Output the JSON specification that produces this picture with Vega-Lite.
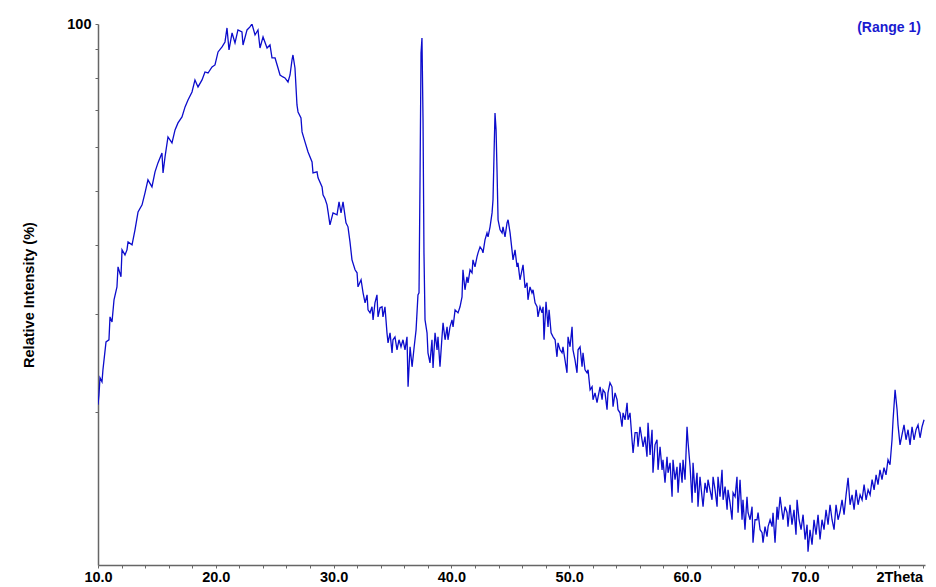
{
"$schema": "https://vega.github.io/schema/vega-lite/v6.json",
"width": 827, "height": 541,
"autosize": {"type": "none"},
"padding": {"left": 98, "top": 24, "right": 11, "bottom": 22},
"background": "white",
"config": {"view": {"stroke": null}, "font": "Liberation Sans"},
"title": {"text": "(Range 1)", "anchor": "end", "color": "#1a1ad0", "fontSize": 14, "fontWeight": "bold", "font": "Liberation Sans", "baseline": "alphabetic", "offset": 0, "dy": 30, "dx": -4, "frame": "group"},
"data": {"values": [
{"t":10.00,"i":20.61},{"t":10.08,"i":21.47},{"t":10.17,"i":23.05},{"t":10.34,"i":22.66},{"t":10.42,"i":23.83},{"t":10.68,"i":26.75},{"t":10.93,"i":26.98},{"t":11.02,"i":29.67},{"t":11.19,"i":29.06},{"t":11.36,"i":31.85},
{"t":11.61,"i":33.61},{"t":11.70,"i":36.52},{"t":11.95,"i":35.04},{"t":12.04,"i":39.18},{"t":12.29,"i":38.37},{"t":12.46,"i":39.18},{"t":12.55,"i":40.50},{"t":12.89,"i":40.00},{"t":13.14,"i":42.57},{"t":13.40,"i":45.87},
{"t":13.74,"i":47.22},{"t":13.99,"i":49.63},{"t":14.24,"i":52.38},{"t":14.58,"i":50.88},{"t":14.84,"i":54.14},{"t":15.09,"i":56.20},{"t":15.43,"i":58.58},{"t":15.52,"i":53.92},{"t":15.69,"i":57.62},{"t":15.94,"i":62.60},
{"t":16.28,"i":61.06},{"t":16.54,"i":64.45},{"t":16.79,"i":66.34},{"t":17.13,"i":68.01},{"t":17.39,"i":70.89},{"t":17.64,"i":72.98},{"t":17.98,"i":75.43},{"t":18.23,"i":79.29},{"t":18.49,"i":77.02},{"t":18.83,"i":79.29},
{"t":19.08,"i":81.96},{"t":19.34,"i":81.61},{"t":19.68,"i":83.68},{"t":19.93,"i":84.37},{"t":20.19,"i":89.05},{"t":20.53,"i":90.92},{"t":20.78,"i":92.82},{"t":20.95,"i":98.38},{"t":21.12,"i":89.80},{"t":21.38,"i":96.35},
{"t":21.63,"i":92.43},{"t":21.88,"i":97.56},{"t":22.22,"i":96.75},{"t":22.31,"i":91.67},{"t":22.65,"i":97.56},{"t":22.90,"i":98.78},{"t":23.07,"i":100.0},{"t":23.33,"i":95.55},{"t":23.58,"i":97.56},{"t":23.75,"i":90.54},
{"t":24.01,"i":94.77},{"t":24.35,"i":90.54},{"t":24.60,"i":91.67},{"t":24.77,"i":86.86},{"t":25.03,"i":86.86},{"t":25.28,"i":83.33},{"t":25.45,"i":80.94},{"t":25.70,"i":80.28},{"t":25.87,"i":79.95},{"t":26.13,"i":78.63},
{"t":26.30,"i":80.94},{"t":26.47,"i":86.14},{"t":26.55,"i":87.94},{"t":26.72,"i":83.33},{"t":26.89,"i":71.48},{"t":26.98,"i":69.43},{"t":27.23,"i":67.73},{"t":27.32,"i":63.91},{"t":27.57,"i":61.31},{"t":27.83,"i":58.82},
{"t":28.17,"i":56.43},{"t":28.25,"i":53.92},{"t":28.59,"i":54.14},{"t":28.68,"i":52.82},{"t":29.02,"i":50.88},{"t":29.10,"i":49.22},{"t":29.27,"i":48.42},{"t":29.44,"i":47.22},{"t":29.53,"i":45.87},{"t":29.69,"i":43.46},
{"t":29.95,"i":45.67},{"t":30.29,"i":45.30},{"t":30.46,"i":47.81},{"t":30.63,"i":45.67},{"t":30.80,"i":47.81},{"t":31.05,"i":43.82},{"t":31.22,"i":43.11},{"t":31.39,"i":40.50},{"t":31.56,"i":37.59},{"t":31.82,"i":36.07},
{"t":31.99,"i":35.62},{"t":32.07,"i":33.61},{"t":32.33,"i":34.61},{"t":32.50,"i":32.78},{"t":32.67,"i":31.45},{"t":32.84,"i":32.51},{"t":32.92,"i":30.55},{"t":33.09,"i":30.17},{"t":33.26,"i":30.94},{"t":33.35,"i":29.31},
{"t":33.51,"i":31.45},{"t":33.68,"i":32.51},{"t":33.77,"i":29.67},{"t":33.94,"i":30.81},{"t":34.11,"i":30.94},{"t":34.19,"i":29.67},{"t":34.36,"i":30.94},{"t":34.53,"i":27.77},{"t":34.62,"i":26.64},{"t":34.79,"i":27.77},
{"t":34.96,"i":25.56},{"t":35.04,"i":26.98},{"t":35.21,"i":27.31},{"t":35.38,"i":25.88},{"t":35.55,"i":26.98},{"t":35.72,"i":26.21},{"t":35.89,"i":26.98},{"t":36.06,"i":25.88},{"t":36.23,"i":27.31},{"t":36.32,"i":22.20},
{"t":36.49,"i":26.21},{"t":36.66,"i":24.12},{"t":36.83,"i":26.10},{"t":37.00,"i":28.12},{"t":37.16,"i":32.51},{"t":37.25,"i":32.78},{"t":37.33,"i":50.88},{"t":37.42,"i":88.67},{"t":37.50,"i":94.38},{"t":37.59,"i":67.18},
{"t":37.67,"i":38.69},{"t":37.76,"i":29.31},{"t":37.93,"i":27.77},{"t":38.01,"i":25.56},{"t":38.18,"i":24.52},{"t":38.35,"i":26.98},{"t":38.44,"i":24.01},{"t":38.61,"i":27.77},{"t":38.78,"i":25.88},{"t":38.86,"i":27.31},
{"t":39.03,"i":24.12},{"t":39.20,"i":27.31},{"t":39.29,"i":28.94},{"t":39.46,"i":26.98},{"t":39.63,"i":28.47},{"t":39.71,"i":26.98},{"t":39.88,"i":28.47},{"t":40.05,"i":29.31},{"t":40.14,"i":28.47},{"t":40.31,"i":30.55},
{"t":40.56,"i":30.17},{"t":40.73,"i":30.94},{"t":40.90,"i":32.24},{"t":40.98,"i":36.07},{"t":41.15,"i":33.20},{"t":41.32,"i":35.04},{"t":41.41,"i":34.17},{"t":41.58,"i":36.07},{"t":41.75,"i":35.62},{"t":41.83,"i":37.59},
{"t":42.00,"i":36.52},{"t":42.17,"i":38.06},{"t":42.26,"i":38.69},{"t":42.43,"i":39.67},{"t":42.60,"i":39.18},{"t":42.68,"i":38.69},{"t":42.85,"i":40.84},{"t":43.02,"i":42.04},{"t":43.11,"i":41.35},{"t":43.28,"i":43.11},
{"t":43.45,"i":45.67},{"t":43.53,"i":48.21},{"t":43.62,"i":58.58},{"t":43.70,"i":69.14},{"t":43.79,"i":64.45},{"t":43.87,"i":54.60},{"t":43.96,"i":44.38},{"t":44.13,"i":42.57},{"t":44.30,"i":42.04},{"t":44.38,"i":43.11},
{"t":44.55,"i":41.35},{"t":44.72,"i":43.82},{"t":44.81,"i":44.38},{"t":44.98,"i":42.04},{"t":45.14,"i":39.18},{"t":45.23,"i":37.59},{"t":45.40,"i":39.18},{"t":45.57,"i":36.52},{"t":45.65,"i":37.13},{"t":45.82,"i":34.61},
{"t":46.08,"i":36.82},{"t":46.25,"i":33.47},{"t":46.42,"i":34.17},{"t":46.50,"i":31.85},{"t":46.67,"i":33.61},{"t":46.84,"i":32.78},{"t":46.93,"i":33.20},{"t":47.10,"i":31.45},{"t":47.27,"i":30.94},{"t":47.35,"i":29.67},
{"t":47.52,"i":30.94},{"t":47.69,"i":30.17},{"t":47.78,"i":30.94},{"t":47.86,"i":26.98},{"t":48.03,"i":31.58},{"t":48.20,"i":28.47},{"t":48.29,"i":30.55},{"t":48.46,"i":27.77},{"t":48.63,"i":27.31},{"t":48.80,"i":26.98},
{"t":48.96,"i":25.14},{"t":49.05,"i":26.64},{"t":49.22,"i":25.88},{"t":49.39,"i":25.56},{"t":49.47,"i":26.21},{"t":49.64,"i":24.83},{"t":49.81,"i":23.53},{"t":49.90,"i":27.31},{"t":50.07,"i":26.21},{"t":50.24,"i":28.47},
{"t":50.32,"i":25.88},{"t":50.49,"i":24.83},{"t":50.66,"i":23.53},{"t":50.75,"i":25.88},{"t":50.92,"i":26.21},{"t":51.09,"i":24.12},{"t":51.17,"i":25.56},{"t":51.34,"i":23.82},{"t":51.51,"i":23.53},{"t":51.60,"i":23.82},
{"t":51.77,"i":21.92},{"t":51.94,"i":22.20},{"t":52.02,"i":21.04},{"t":52.19,"i":21.65},{"t":52.36,"i":20.78},{"t":52.45,"i":21.30},{"t":52.62,"i":22.20},{"t":52.79,"i":21.04},{"t":52.87,"i":21.92},{"t":53.04,"i":21.65},
{"t":53.21,"i":20.19},{"t":53.29,"i":21.65},{"t":53.46,"i":22.57},{"t":53.63,"i":22.20},{"t":53.72,"i":20.44},{"t":53.89,"i":21.65},{"t":54.06,"i":21.04},{"t":54.14,"i":20.19},{"t":54.31,"i":19.93},{"t":54.48,"i":18.81},
{"t":54.57,"i":19.93},{"t":54.74,"i":19.36},{"t":54.91,"i":20.78},{"t":54.99,"i":19.36},{"t":55.16,"i":19.93},{"t":55.33,"i":17.82},{"t":55.42,"i":16.88},{"t":55.59,"i":18.35},{"t":55.76,"i":18.35},{"t":55.84,"i":17.31},
{"t":56.01,"i":18.81},{"t":56.18,"i":17.82},{"t":56.27,"i":17.31},{"t":56.43,"i":18.05},{"t":56.60,"i":16.61},{"t":56.69,"i":19.12},{"t":56.86,"i":16.74},{"t":57.03,"i":18.58},{"t":57.11,"i":15.54},{"t":57.28,"i":17.45},
{"t":57.45,"i":17.82},{"t":57.54,"i":15.73},{"t":57.71,"i":17.31},{"t":57.88,"i":15.73},{"t":57.96,"i":16.40},{"t":58.13,"i":14.91},{"t":58.30,"i":16.61},{"t":58.39,"i":15.54},{"t":58.56,"i":16.20},{"t":58.73,"i":14.07},
{"t":58.81,"i":16.40},{"t":58.98,"i":15.10},{"t":59.15,"i":15.93},{"t":59.24,"i":14.30},{"t":59.41,"i":16.20},{"t":59.58,"i":14.91},{"t":59.66,"i":16.40},{"t":59.83,"i":15.10},{"t":60.00,"i":18.81},{"t":60.09,"i":17.60},
{"t":60.26,"i":15.93},{"t":60.43,"i":13.72},{"t":60.51,"i":16.20},{"t":60.68,"i":14.30},{"t":60.85,"i":15.54},{"t":60.93,"i":13.50},{"t":61.10,"i":15.28},{"t":61.27,"i":14.07},{"t":61.36,"i":13.50},{"t":61.53,"i":14.91},
{"t":61.70,"i":14.30},{"t":61.78,"i":15.10},{"t":61.95,"i":14.48},{"t":62.12,"i":13.89},{"t":62.21,"i":15.28},{"t":62.38,"i":14.48},{"t":62.55,"i":13.50},{"t":62.63,"i":15.28},{"t":62.80,"i":14.07},{"t":62.97,"i":15.73},
{"t":63.06,"i":13.89},{"t":63.23,"i":14.67},{"t":63.40,"i":13.33},{"t":63.48,"i":14.48},{"t":63.65,"i":13.72},{"t":63.82,"i":12.79},{"t":63.91,"i":14.30},{"t":64.08,"i":14.07},{"t":64.24,"i":15.28},{"t":64.33,"i":13.17},
{"t":64.50,"i":15.10},{"t":64.67,"i":12.79},{"t":64.75,"i":13.89},{"t":64.92,"i":12.27},{"t":65.09,"i":14.07},{"t":65.18,"i":13.17},{"t":65.35,"i":12.79},{"t":65.52,"i":13.50},{"t":65.60,"i":11.63},{"t":65.77,"i":12.79},
{"t":65.94,"i":12.79},{"t":66.03,"i":13.17},{"t":66.20,"i":12.27},{"t":66.37,"i":12.12},{"t":66.45,"i":11.63},{"t":66.62,"i":12.43},{"t":66.79,"i":11.92},{"t":66.88,"i":12.43},{"t":67.05,"i":12.79},{"t":67.22,"i":12.43},
{"t":67.30,"i":13.17},{"t":67.47,"i":11.63},{"t":67.64,"i":13.50},{"t":67.73,"i":12.79},{"t":67.90,"i":14.07},{"t":68.07,"i":13.17},{"t":68.15,"i":12.79},{"t":68.32,"i":13.50},{"t":68.49,"i":13.17},{"t":68.57,"i":12.43},
{"t":68.74,"i":13.61},{"t":68.91,"i":12.53},{"t":69.08,"i":13.33},{"t":69.25,"i":12.02},{"t":69.34,"i":13.89},{"t":69.51,"i":12.79},{"t":69.68,"i":12.27},{"t":69.85,"i":13.06},{"t":70.02,"i":11.78},{"t":70.19,"i":12.53},
{"t":70.27,"i":11.20},{"t":70.44,"i":12.27},{"t":70.61,"i":11.53},{"t":70.78,"i":12.79},{"t":70.95,"i":12.02},{"t":71.12,"i":13.06},{"t":71.29,"i":11.78},{"t":71.46,"i":12.79},{"t":71.63,"i":12.27},{"t":71.80,"i":13.33},
{"t":71.97,"i":12.53},{"t":72.14,"i":13.61},{"t":72.31,"i":12.79},{"t":72.48,"i":12.27},{"t":72.65,"i":13.61},{"t":72.82,"i":12.79},{"t":72.99,"i":13.22},{"t":73.16,"i":13.89},{"t":73.33,"i":13.06},{"t":73.50,"i":14.18},
{"t":73.67,"i":15.22},{"t":73.84,"i":13.61},{"t":74.01,"i":14.18},{"t":74.18,"i":13.33},{"t":74.35,"i":14.48},{"t":74.52,"i":13.61},{"t":74.69,"i":14.18},{"t":74.86,"i":13.89},{"t":75.03,"i":14.79},{"t":75.20,"i":13.89},
{"t":75.37,"i":14.48},{"t":75.54,"i":14.18},{"t":75.71,"i":15.10},{"t":75.88,"i":14.48},{"t":76.05,"i":15.41},{"t":76.21,"i":14.79},{"t":76.38,"i":15.73},{"t":76.55,"i":15.10},{"t":76.72,"i":15.87},{"t":76.89,"i":15.41},
{"t":77.06,"i":16.40},{"t":77.23,"i":16.07},{"t":77.40,"i":17.82},{"t":77.49,"i":19.36},{"t":77.66,"i":21.92},{"t":77.83,"i":20.19},{"t":77.91,"i":18.96},{"t":78.08,"i":17.45},{"t":78.25,"i":18.20},{"t":78.42,"i":18.96},
{"t":78.59,"i":17.82},{"t":78.76,"i":18.58},{"t":78.93,"i":17.45},{"t":79.10,"i":18.81},{"t":79.27,"i":17.82},{"t":79.44,"i":18.58},{"t":79.61,"i":18.96},{"t":79.78,"i":17.97},{"t":79.95,"i":18.81},{"t":80.12,"i":19.36}
]},
"mark": {"type": "line", "color": "#0c0ccc", "strokeWidth": 1.3, "clip": true},
"encoding": {
 "x": {"field": "t", "type": "quantitative",
  "scale": {"domain": [10, 80.2], "nice": false, "zero": false},
  "axis": {"values": [10,12,14,16,18,20,22,24,26,28,30,32,34,36,38,40,42,44,46,48,50,52,54,56,58,60,62,64,66,68,70,72,74,76,78,80],
   "labelExpr": "datum.value == 80 ? '2Theta' : (datum.value % 10 == 0 ? format(datum.value, '.1f') : '')",
   "labelAlign": {"condition": {"test": "datum.value == 80", "value": "right"}, "value": "center"},
   "title": null, "grid": false, "tickSize": 3, "tickColor": "#666666", "domainColor": "#666666", "domainWidth": 1.5,
   "labelFontSize": 14.5, "labelFontWeight": "bold", "labelColor": "#000000", "labelPadding": 2, "labelFlush": false, "labelBound": false, "labelOverlap": false, "labelFont": "Liberation Sans"}},
 "y": {"field": "i", "type": "quantitative",
  "scale": {"type": "log", "domain": [10.6, 100], "nice": false},
  "axis": {"values": [20,30,40,50,60,70,80,90,100],
   "labelExpr": "datum.value == 100 ? '100' : ''",
   "title": "Relative Intensity (%)", "titleFontSize": 14.5, "titleFontWeight": "bold", "titleColor": "#000000", "titleFont": "Liberation Sans", "titlePadding": 30,
   "grid": false, "tickSize": 3, "tickColor": "#666666", "domainColor": "#666666", "domainWidth": 1.5,
   "labelFontSize": 14.5, "labelFontWeight": "bold", "labelColor": "#000000", "labelPadding": 4, "labelOverlap": false, "labelFont": "Liberation Sans"}}
}
}
